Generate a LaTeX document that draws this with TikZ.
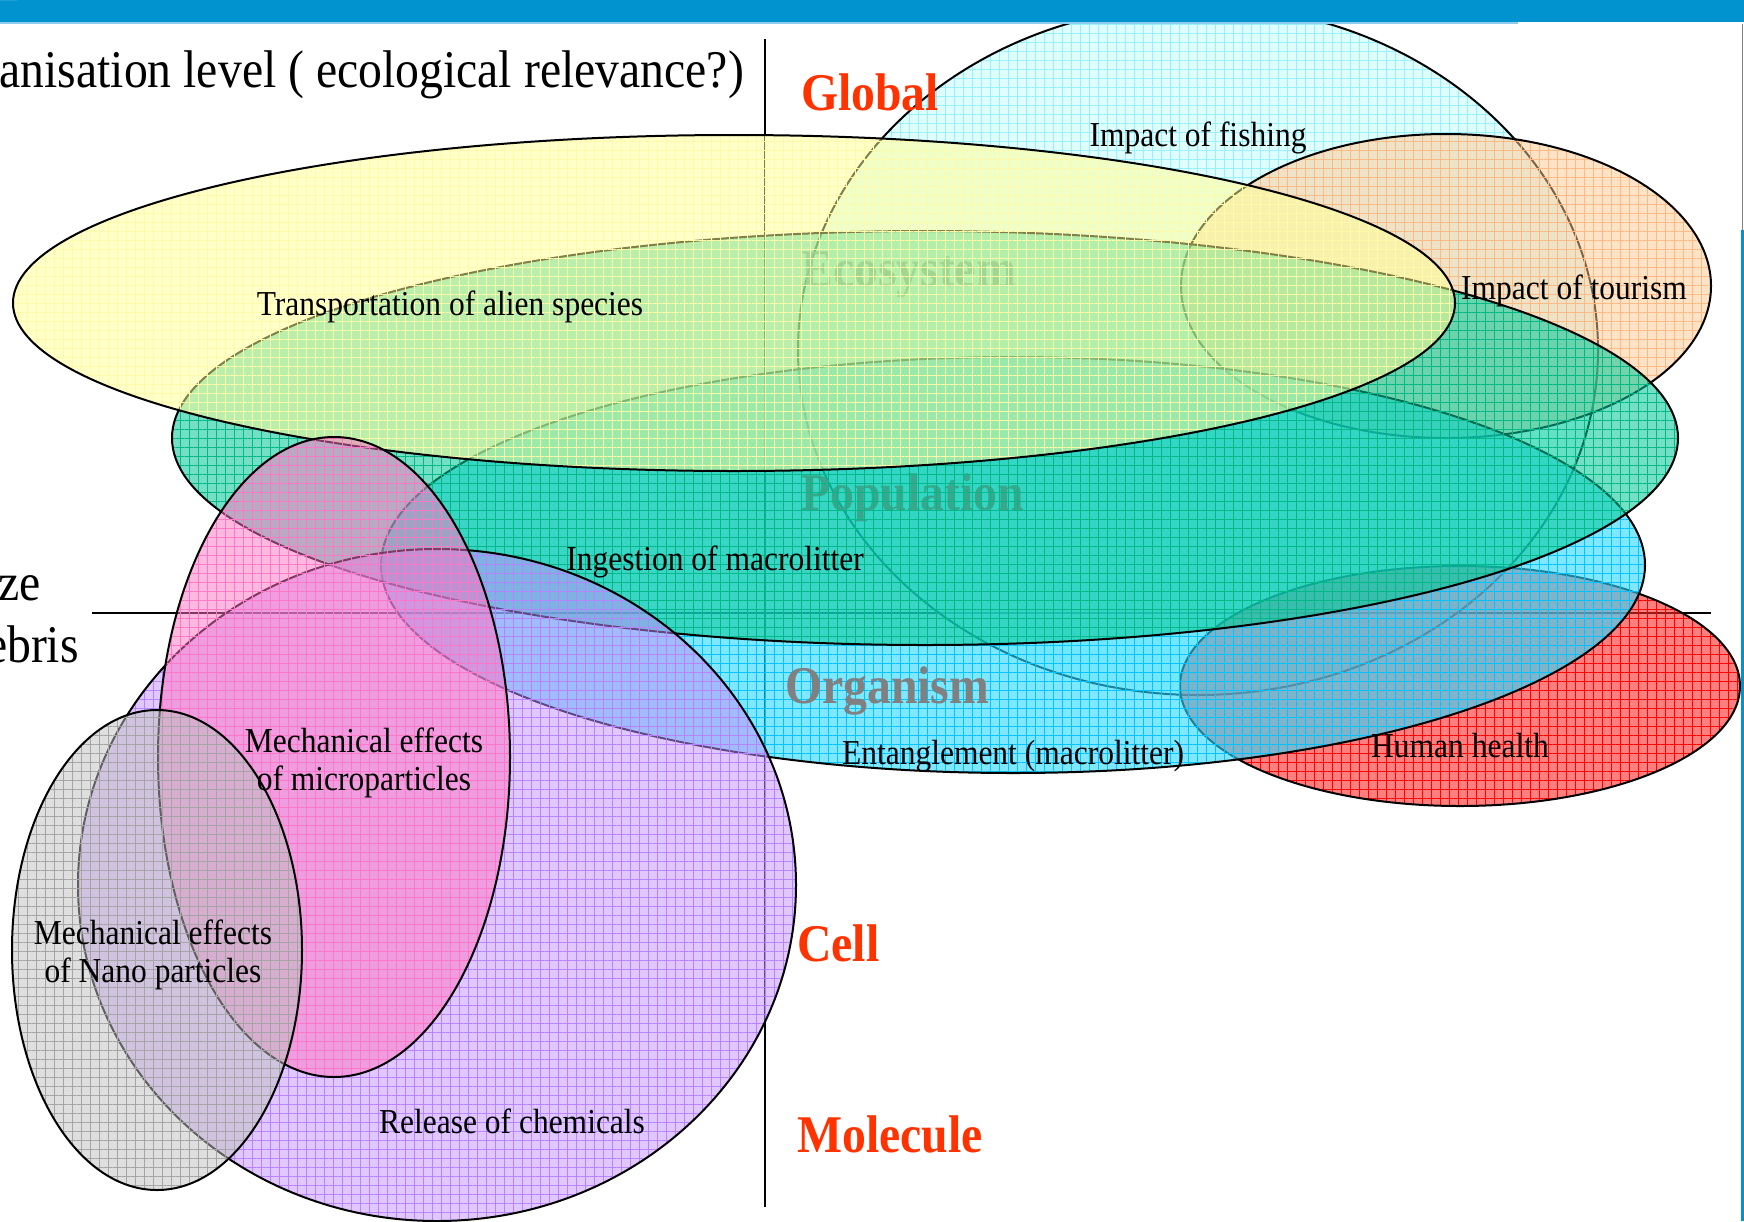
\documentclass[tikz,border=0pt]{standalone}
\usepackage{fontspec}
\setmainfont[FakeStretch=0.9]{Liberation Serif}
\usetikzlibrary{patterns.meta}
\definecolor{fishC}{RGB}{193,255,255}
\definecolor{fishL}{RGB}{150,240,255}
\definecolor{yelC}{RGB}{255,255,145}
\definecolor{yelL}{RGB}{255,250,170}
\definecolor{peachC}{RGB}{255,201,145}
\definecolor{peachL}{RGB}{255,185,130}
\definecolor{greenC}{RGB}{0,200,150}
\definecolor{greenL}{RGB}{0,185,135}
\definecolor{cyanC}{RGB}{43,216,255}
\definecolor{cyanL}{RGB}{0,195,255}
\definecolor{redC}{RGB}{255,43,43}
\definecolor{redL}{RGB}{255,0,0}
\definecolor{pinkC}{RGB}{255,115,195}
\definecolor{pinkL}{RGB}{255,120,200}
\definecolor{purC}{RGB}{195,145,255}
\definecolor{purL}{RGB}{185,130,255}
\definecolor{grayC}{RGB}{193,193,193}
\definecolor{grayL}{RGB}{165,165,165}
\definecolor{barC}{RGB}{0,147,208}
\definecolor{barLight}{RGB}{140,205,235}
\definecolor{lvlC}{RGB}{255,51,0}
\definecolor{lvlG}{RGB}{128,128,128}
\newcommand\myblob[6]{%
  \path[fill=#4, fill opacity=#5] #1 ellipse [x radius=#2, y radius=#3];
  \path[gridfill=#6] #1 ellipse [x radius=#2, y radius=#3];
  \draw[blob] #1 ellipse [x radius=#2, y radius=#3];}
\begin{document}
\begin{tikzpicture}[x=1pt,y=-1pt,
  blob/.style={draw=black, line width=2pt},
  gridfill/.style={pattern={Hatch[distance=9pt,line width=0.7pt]}, pattern color=#1, fill opacity=0.28},
  lab/.style={font=\fontsize{35}{38}\selectfont, align=center, inner sep=0pt},
  axlab/.style={font=\fontsize{53}{58}\selectfont, inner sep=0pt},
  lvl/.style={font=\fontsize{53}{58}\selectfont\bfseries, inner sep=0pt, anchor=west},
  axis/.style={line width=1.5pt, draw=black}]
\useasboundingbox (0,0) rectangle (1744,1221);
\fill[white] (0,0) rectangle (1744,1221);
% axes
\coordinate (vt) at (765,39);
\coordinate (vb) at (765,1207);
\coordinate (hl) at (92,613);
\coordinate (hr) at (1711,613);
\draw[axis] (vt) -- (vb);
\draw[axis] (hl) -- (hr);
% ellipses
\myblob{(1198,350)}{400}{345}{fishC}{0.5}{fishL}
\myblob{(1460,686)}{280}{120}{redC}{0.6}{redL}
\myblob{(1446,286)}{265}{152}{peachC}{0.5}{peachL}
\myblob{(1013,565)}{632}{208}{cyanC}{0.6}{cyanL}
\node[lvl, text=lvlG, text opacity=0.85] (eco) at (801,275) {Ecosystem};
\node[lvl, text=lvlG] (pop) at (801,498) {Population};
\node[lvl, text=lvlG] (org) at (785,691) {Organism};
\myblob{(925,438)}{753}{207}{greenC}{0.55}{greenL}
\myblob{(734,303)}{721}{168}{yelC}{0.5}{yelL}
\myblob{(437,885)}{359}{336}{purC}{0.5}{purL}
\myblob{(334,757)}{176}{320}{pinkC}{0.5}{pinkL}
\myblob{(157,950)}{145}{240}{grayC}{0.5}{grayL}
% labels
\node[lab] (fish) at (1198,138) {Impact of fishing};
\node[lab] (alien) at (450,307) {Transportation of alien species};
\node[lab] (tour) at (1574,291) {Impact of tourism};
\node[lab] (ingest) at (715,562) {Ingestion of macrolitter};
\node[lab] (entangle) at (1013,756) {Entanglement (macrolitter)};
\node[lab] (health) at (1460,746) {Human health};
\node[lab] (micro) at (364,763) {Mechanical effects\\of microparticles};
\node[lab] (nano) at (153,955) {Mechanical effects\\of Nano particles};
\node[lab] (chem) at (512,1121) {Release of chemicals};
\node[lvl, text=lvlC] (glob) at (801,92) {Global};
\node[lvl, text=lvlC] (cell) at (797,943) {Cell};
\node[lvl, text=lvlC] (mol) at (797,1134) {Molecule};
\node[axlab, anchor=east] (orglev) at (744,75) {anisation level ( ecological relevance?)};
\node[axlab, anchor=east] (ze) at (41,588) {ze};
\node[axlab, anchor=east] (debris) at (79,644) {ebris};
% top bar and frame
\fill[barC] (0,0) rectangle (1744,22);
\fill[barLight] (0,22) rectangle (1518,24);
\fill[white] (0,0) -- (17,0) arc[start angle=0, end angle=-90, radius=14] -- cycle;
\draw[line width=1pt, draw=lvlG] (1742.5,24) -- (1742.5,230);
\draw[line width=3pt, draw=barC] (1742.5,230) -- (1742.5,1221);
\end{tikzpicture}
\end{document}
